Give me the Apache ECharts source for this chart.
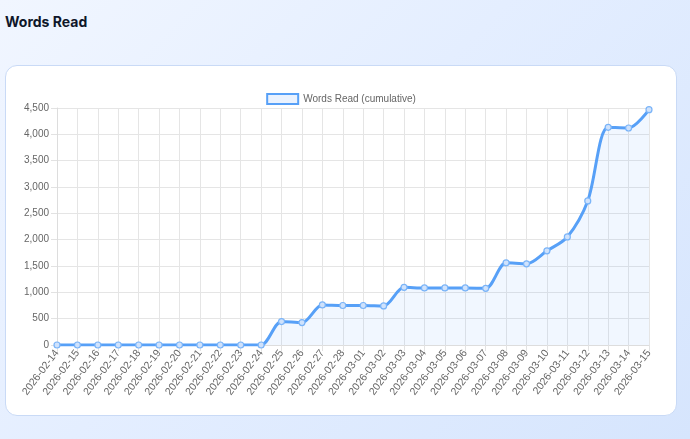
<!DOCTYPE html>
<html>
<head>
<meta charset="utf-8">
<script src="https://cdn.jsdelivr.net/npm/echarts@6/dist/echarts.min.js"></script>
<style>
  html, body { margin: 0; padding: 0; }
  body {
    width: 690px; height: 439px; overflow: hidden; position: relative;
    background: linear-gradient(135deg, #f1f6ff 0%, #e4eeff 45%, #d6e5fd 100%);
    font-family: Inter, "Liberation Sans", sans-serif;
  }
  h2 {
    position: absolute; left: 5px; top: 13px; margin: 0;
    font-size: 14px; font-weight: 700; color: #0f172a;
  }
  .card {
    position: absolute; left: 5px; top: 65px; width: 670px; height: 349px;
    background: #fff; border: 1px solid #c9daf6; border-radius: 12px;
    overflow: hidden;
  }
  #chart { width: 670px; height: 349px; }
</style>
</head>
<body>
<h2>Words Read</h2>
<div class="card"><div id="chart"></div></div>
<script>
const dates = [
  "2026-02-14", "2026-02-15", "2026-02-16", "2026-02-17", "2026-02-18",
  "2026-02-19", "2026-02-20", "2026-02-21", "2026-02-22", "2026-02-23",
  "2026-02-24", "2026-02-25", "2026-02-26", "2026-02-27", "2026-02-28",
  "2026-03-01", "2026-03-02", "2026-03-03", "2026-03-04", "2026-03-05",
  "2026-03-06", "2026-03-07", "2026-03-08", "2026-03-09", "2026-03-10",
  "2026-03-11", "2026-03-12", "2026-03-13", "2026-03-14", "2026-03-15"
];

const wordsCumulative = [
  0, 0, 0, 0, 0, 0, 0, 0, 0, 0,
  0, 445, 425, 760, 750, 750, 742, 1095, 1083, 1083,
  1083, 1076, 1560, 1542, 1788, 2052, 2735, 4133, 4120, 4468
];

const yTicks = [0, 500, 1000, 1500, 2000, 2500, 3000, 3500, 4000, 4500];

const chart = echarts.init(document.getElementById("chart"));

const blue = "#57a0f7";

chart.setOption({
  animation: false,
  textStyle: { fontFamily: "Liberation Sans" },
  legend: {
    top: 22,
    left: "center",
    icon: "rect",
    itemWidth: 31,
    itemHeight: 10,
    itemGap: 8,
    textStyle: { color: "#666", fontSize: 10, fontFamily: "Liberation Sans" },
    itemStyle: { color: "#eaf2fe", borderColor: blue, borderWidth: 2 },
    data: ["Words Read (cumulative)"]
  },
  grid: { left: 51, right: 27, top: 42, bottom: 70 },
  xAxis: {
    type: "category",
    data: dates,
    boundaryGap: false,
    axisLine: { lineStyle: { color: "#ddd" } },
    axisTick: { show: true, length: 6, lineStyle: { color: "#e2e2e2" } },
    axisLabel: {
      rotate: 53, interval: 0, color: "#666", fontSize: 10.5, margin: 6
    },
    splitLine: { show: true, lineStyle: { color: "#e5e5e5" } }
  },
  yAxis: {
    type: "value",
    min: yTicks[0],
    max: yTicks[yTicks.length - 1],
    interval: 500,
    axisLine: { show: true, lineStyle: { color: "#ddd" } },
    axisTick: { show: true, length: 6, lineStyle: { color: "#e2e2e2" } },
    axisLabel: {
      color: "#666", fontSize: 10, margin: 8,
      formatter: v => v.toLocaleString("en-US")
    },
    splitLine: { lineStyle: { color: "#e5e5e5" } }
  },
  series: [{
    name: "Words Read (cumulative)",
    type: "line",
    data: wordsCumulative,
    smooth: 0.3,
    symbol: "circle",
    symbolSize: 6,
    showAllSymbol: true,
    lineStyle: { color: blue, width: 3 },
    itemStyle: { color: "#cfe2fc", borderColor: "#7ab4f8", borderWidth: 1.2 },
    areaStyle: { color: "rgba(96,165,250,0.12)" }
  }]
});
</script>
</body>
</html>
